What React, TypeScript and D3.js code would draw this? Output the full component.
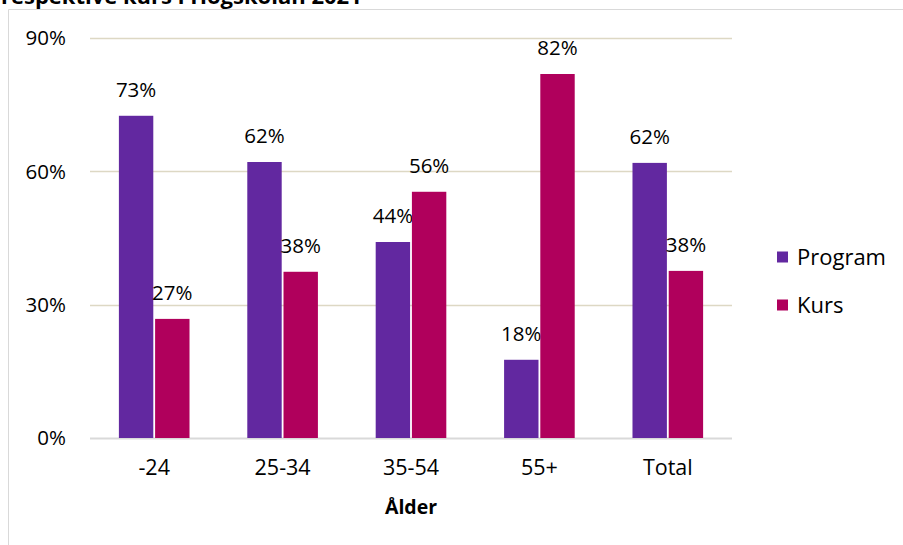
import React from "react";
import * as d3 from "d3";

const categories = ["-24", "25-34", "35-54", "55+", "Total"];
const series = ["Program", "Kurs"];
const programValues = [72.5, 62.1, 44.1, 17.6, 61.9];
const kursValues = [26.8, 37.4, 55.4, 81.9, 37.6];
const valueLabels = [
  ["73%", "62%", "44%", "18%", "62%"],
  ["27%", "38%", "56%", "82%", "38%"],
];
const yTicks = [0, 30, 60, 90];
const colors = ["#6228A0", "#B0005C"];

const title = "respektive kurs i Högskolan 2021";
const axisTitle = "Ålder";

const width = 903, height = 545;
const font = "'Open Sans', 'Noto Sans', sans-serif";

const App = () => {
  const x = d3.scaleBand().domain(categories).range([90, 732]).paddingInner(0.45).paddingOuter(0.225);
  const xs = d3.scaleBand().domain(series).range([0, x.bandwidth()]).paddingInner(0.05);
  const y = d3.scaleLinear().domain([0, 90]).range([438, 38]);
  const values = [programValues, kursValues];

  return (
    <svg width={width} height={height} style={{ position: "absolute", left: 0, top: 0 }} fontFamily={font}>
      <rect x={0} y={0} width={width} height={height} fill="#fff" />
      {/* frame */}
      <path d={`M8.5,${height} V9.5 H${width}`} fill="none" stroke="#d9d9d9" strokeWidth={1} />
      <text x={1} y={4} fontSize={22} fontWeight="bold" fill="#000">{title}</text>

      {yTicks.map(t => (
        <g key={t}>
          <line x1={90} x2={732} y1={Math.round(y(t)) + 0.5} y2={Math.round(y(t)) + 0.5}
            stroke={t === 0 ? "#d9d9d9" : "#ddd8c4"} strokeWidth={t === 0 ? 2 : 1.5} />
          <text x={66} y={y(t)} dy="0.35em" textAnchor="end" fontSize={20.5} fill="#000">{t}%</text>
        </g>
      ))}

      {series.map((s, si) => (
        <g key={s}>
          {categories.map((c, ci) => {
            const bx = (x(c) ?? 0) + (xs(s) ?? 0);
            const v = values[si][ci];
            return (
              <g key={c}>
                <rect x={bx} y={y(v)} width={xs.bandwidth()} height={y(0) - y(v)} fill={colors[si]} />
                <text x={bx + xs.bandwidth() / 2} y={y(v) - 19} textAnchor="middle" fontSize={20.5} fill="#000">
                  {valueLabels[si][ci]}
                </text>
              </g>
            );
          })}
        </g>
      ))}

      {categories.map(c => (
        <text key={c} x={(x(c) ?? 0) + x.bandwidth() / 2} y={475} textAnchor="middle" fontSize={21.5} fill="#000">{c}</text>
      ))}
      <text x={411} y={514} textAnchor="middle" fontSize={19.5} fontWeight="bold" fill="#000">{axisTitle}</text>

      {series.map((s, i) => (
        <g key={s} transform={`translate(777,${257 + i * 48})`}>
          <rect x={0} y={-5.5} width={11} height={11} fill={colors[i]} />
          <text x={20} y={0} dy="0.35em" fontSize={22} fill="#000">{s}</text>
        </g>
      ))}
    </svg>
  );
};

export default App;
